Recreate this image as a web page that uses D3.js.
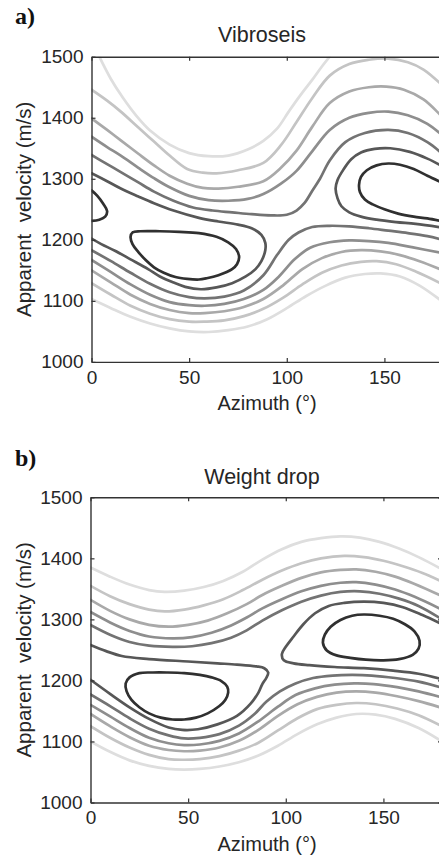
<!DOCTYPE html>
<html>
<head>
<meta charset="utf-8">
<script src="https://cdn.jsdelivr.net/npm/d3@7"></script>
<style>
  html, body { margin: 0; padding: 0; background: #fff; }
  svg { display: block; }
  .tick text, .lbl { font-family: "Liberation Sans", Arial, Helvetica, sans-serif; fill: #262626; }
</style>
</head>
<body>
<svg id="chart" width="439" height="855"></svg>
<script>
// ---- axis ticks ----
const xTicks = [0, 50, 100, 150];
const yTicks = [1000, 1100, 1200, 1300, 1400, 1500];

// grey shade of each contour level (1 = outermost/lightest, 7 = innermost/darkest)
const levelColors = ["#dedede", "#c4c4c4", "#a9a9a9", "#8e8e8e", "#737373", "#575757", "#303030"];

// ---- Vibroseis contours: [azimuth (deg), apparent velocity (m/s)] ----
const vibL1Upper = [[4,1500],[10,1463],[16,1433],[23,1403],[30,1379],[40,1356],[50,1342],[60,1337],[70,1338],[80,1348],[88,1362],[95,1382],[101,1410],[107,1437],[113,1462],[118,1484],[122,1500]];
const vibL2Upper = [[0,1446],[8,1428],[15,1410],[24,1384],[32,1361],[40,1338],[49,1316],[57,1310],[64,1309],[75,1314],[88,1326],[97,1355],[105,1393],[113,1432],[122,1469],[132,1488],[142,1495],[152,1497],[162,1491],[170,1479],[180,1452]];
const vibL3Upper = [[0,1399],[8,1380],[15,1363],[24,1341],[32,1322],[40,1305],[49,1292],[57,1285],[65,1284],[75,1287],[88,1296],[97,1318],[105,1346],[113,1385],[122,1424],[132,1443],[142,1450],[151,1451],[160,1446],[170,1430],[180,1400]];
const vibL4Upper = [[0,1369],[8,1352],[15,1338],[24,1318],[32,1301],[40,1286],[50,1272],[60,1265],[70,1264],[80,1267],[88,1275],[97,1292],[105,1313],[113,1345],[122,1380],[132,1400],[142,1408],[152,1410],[162,1404],[172,1390],[180,1370]];
const vibL5Upper = [[0,1339],[8,1324],[15,1311],[24,1294],[32,1279],[42,1264],[52,1253],[62,1248],[72,1245],[82,1242],[92,1240],[100,1241],[105,1248],[109,1260],[113,1280],[117,1300],[122,1330],[130,1360],[140,1375],[152,1380],[162,1375],[172,1360],[180,1340]];
const vibL6Central = [[0,1309],[8,1296],[15,1284],[24,1271],[32,1260],[42,1248],[55,1236],[65,1230],[75,1225],[82,1219],[87,1208],[89,1195],[89,1183],[87,1165],[84,1152],[79,1140],[72,1129],[64,1122],[56,1119],[48,1123],[42,1130],[35,1140],[29,1152],[20,1168],[12,1182],[5,1193],[0,1202]];
const vibL6Right = [[180,1320],[172,1333],[163,1344],[153,1350],[145,1349],[138,1343],[133,1332],[129,1315],[126,1298],[125,1284],[126,1268],[128,1255],[132,1245],[138,1238],[146,1233],[156,1229],[166,1226],[180,1220]];
const vibL7Left = [[0,1281],[3,1272],[6,1259],[8,1247],[7,1238],[4,1233],[0,1231]];
const vibL7Central = [[20,1205],[21,1212],[25,1214],[35,1214],[45,1213],[55,1211],[64,1205],[70,1196],[74,1185],[75.6,1172],[74.5,1160],[72,1152],[65,1142],[59,1137],[55,1135],[49,1136],[43,1139],[37,1146],[32,1155],[28,1166],[24,1180],[21,1193]];
const vibL7Right = [[180,1293],[172,1305],[165,1316],[158,1323],[152,1325],[146,1322],[141,1314],[138,1303],[137,1290],[137.5,1278],[140,1266],[144,1258],[150,1250],[157,1243],[165,1238],[172,1235],[180,1230]];
const vibL5Lower = [[0,1183],[10,1165],[20,1146],[30,1128],[40,1114],[50,1106],[58,1104],[68,1107],[78,1117],[88,1142],[95,1175],[101,1200],[106,1212],[113,1221],[122,1223],[132,1222],[142,1219],[152,1215],[162,1211],[172,1206],[180,1200]];
const vibL4Lower = [[0,1167],[10,1147],[20,1127],[30,1110],[40,1098],[50,1093],[58,1092],[68,1095],[78,1103],[88,1118],[96,1140],[104,1168],[112,1187],[122,1196],[132,1199],[142,1198],[152,1195],[164,1188],[180,1178]];
const vibL3Lower = [[0,1150],[10,1130],[20,1110],[30,1095],[40,1085],[50,1080],[58,1080],[68,1083],[78,1090],[88,1103],[98,1125],[108,1152],[118,1170],[128,1180],[138,1183],[148,1181],[158,1175],[168,1165],[180,1150]];
const vibL2Lower = [[0,1129],[10,1110],[20,1092],[30,1079],[40,1070],[50,1066],[58,1066],[68,1068],[78,1075],[88,1087],[98,1105],[108,1127],[118,1146],[128,1158],[138,1164],[146,1165],[156,1160],[166,1148],[180,1127]];
const vibL1Lower = [[0,1103],[10,1088],[20,1074],[30,1063],[40,1055],[50,1050],[60,1049],[70,1052],[80,1058],[90,1070],[100,1088],[110,1108],[120,1125],[130,1138],[140,1144],[148,1145],[158,1140],[168,1125],[180,1098]];

// ---- Weight drop contours ----
const wdL1Upper = [[0,1385],[10,1370],[20,1357],[30,1348],[38,1345],[48,1347],[58,1353],[68,1363],[78,1378],[88,1398],[98,1415],[108,1427],[118,1433],[128,1436],[138,1434],[148,1427],[158,1416],[168,1402],[180,1382]];
const wdL2Upper = [[0,1355],[10,1338],[20,1325],[30,1316],[38,1313],[48,1316],[58,1323],[68,1333],[78,1348],[88,1365],[98,1380],[108,1392],[118,1400],[130,1404],[140,1402],[150,1396],[160,1387],[170,1376],[180,1362]];
const wdL3Upper = [[0,1332],[10,1314],[20,1300],[30,1291],[40,1288],[50,1291],[60,1298],[70,1310],[80,1325],[88,1340],[98,1355],[108,1368],[118,1377],[128,1381],[136,1382],[146,1378],[156,1370],[166,1358],[180,1338]];
const wdL4Upper = [[0,1312],[10,1295],[20,1281],[30,1272],[42,1269],[52,1271],[62,1278],[72,1290],[80,1303],[88,1318],[98,1333],[108,1346],[118,1355],[128,1360],[136,1361],[146,1357],[156,1349],[166,1337],[180,1316]];
const wdL5Upper = [[0,1291],[10,1275],[20,1263],[30,1257],[42,1255],[52,1256],[62,1261],[72,1270],[80,1282],[88,1298],[98,1315],[108,1329],[118,1339],[128,1345],[138,1346],[148,1342],[158,1334],[168,1322],[180,1300]];
const wdL6Central = [[0,1258],[8,1248],[16,1240],[30,1235],[50,1231],[65,1228],[75,1226],[85,1223],[89,1220],[91,1213],[90,1204],[88,1194],[86,1180],[82,1162],[75,1142],[65,1128],[55,1120],[47,1119],[40,1123],[30,1137],[20,1156],[10,1178],[0,1201]];
const wdL6Right = [[180,1292],[170,1307],[160,1320],[150,1327],[140,1329],[130,1327],[122,1322],[115,1310],[109,1292],[104,1272],[100,1255],[98,1243],[99,1233],[104,1228],[112,1225],[125,1222],[140,1220],[155,1216],[168,1211],[180,1202]];
const wdL7Central = [[18,1195],[20,1205],[25,1212],[32,1213],[39,1213],[48,1212],[56,1209],[62,1205],[67,1199],[70,1190],[70.5,1180],[69,1168],[66,1158],[60,1146],[54,1139],[48,1136],[42,1136],[36,1139],[30,1146],[25,1156],[21,1168],[18.5,1182]];
const wdL7Right = [[119,1262],[120,1275],[123,1288],[128,1299],[134,1306],[140,1308],[148,1306],[155,1301],[161,1292],[166,1280],[168.5,1265],[168,1252],[165,1242],[158,1235],[150,1233],[141,1234],[133,1237],[126,1241],[121,1249]];
const wdL5Lower = [[0,1177],[10,1158],[20,1138],[30,1121],[40,1110],[48,1105],[56,1106],[66,1112],[76,1126],[84,1145],[90,1165],[97,1182],[105,1195],[114,1204],[124,1208],[134,1209],[144,1208],[156,1204],[168,1198],[180,1188]];
const wdL4Lower = [[0,1160],[10,1141],[20,1122],[30,1106],[40,1097],[48,1094],[56,1095],[66,1101],[76,1113],[86,1133],[96,1157],[105,1176],[115,1187],[125,1193],[135,1195],[145,1194],[157,1189],[168,1182],[180,1172]];
const wdL3Lower = [[0,1145],[10,1125],[20,1107],[30,1093],[40,1086],[48,1084],[56,1085],[66,1090],[76,1101],[86,1119],[96,1142],[106,1161],[116,1173],[126,1180],[136,1182],[146,1180],[157,1174],[168,1166],[180,1155]];
const wdL2Lower = [[0,1125],[10,1106],[20,1090],[30,1078],[40,1071],[48,1070],[56,1071],[66,1076],[76,1085],[86,1098],[96,1118],[106,1138],[116,1153],[126,1160],[136,1163],[146,1161],[157,1154],[168,1143],[180,1125]];
const wdL1Lower = [[0,1100],[10,1083],[20,1069],[30,1060],[40,1055],[48,1054],[56,1055],[66,1059],[76,1066],[86,1077],[96,1093],[106,1112],[116,1128],[126,1139],[136,1145],[146,1144],[156,1137],[168,1122],[180,1100]];

// contour sets: [level, points, closed?]
const vibContours = [
  [1, vibL1Upper], [2, vibL2Upper], [3, vibL3Upper], [4, vibL4Upper], [5, vibL5Upper],
  [6, vibL6Central], [6, vibL6Right],
  [7, vibL7Left], [7, vibL7Central, true], [7, vibL7Right],
  [5, vibL5Lower], [4, vibL4Lower], [3, vibL3Lower], [2, vibL2Lower], [1, vibL1Lower]
];
const wdContours = [
  [1, wdL1Upper], [2, wdL2Upper], [3, wdL3Upper], [4, wdL4Upper], [5, wdL5Upper],
  [6, wdL6Central], [6, wdL6Right],
  [7, wdL7Central, true], [7, wdL7Right, true],
  [5, wdL5Lower], [4, wdL4Lower], [3, wdL3Lower], [2, wdL2Lower], [1, wdL1Lower]
];

const panels = [
  { tag: "a)", title: "Vibroseis",   contours: vibContours, left: 91.5, top: 56.7,  tagY: 24,  titleY: 42 },
  { tag: "b)", title: "Weight drop", contours: wdContours,  left: 90.5, top: 497.3, tagY: 466, titleY: 483.5 }
];

const svg = d3.select("#chart");
const plotW = 351.5, plotH = 305.2;
const axisColor = "#333";

panels.forEach((p, i) => {
  const x = d3.scaleLinear().domain([0, 180]).range([0, plotW]);
  const y = d3.scaleLinear().domain([1000, 1500]).range([plotH, 0]);
  const g = svg.append("g").attr("transform", `translate(${p.left},${p.top})`);

  const clipId = "clip" + i;
  g.append("clipPath").attr("id", clipId)
    .append("rect").attr("x", 0).attr("y", 0).attr("width", plotW).attr("height", plotH);

  const open = d3.line().x(d => x(d[0])).y(d => y(d[1])).curve(d3.curveCatmullRom.alpha(0.5));
  const closed = d3.line().x(d => x(d[0])).y(d => y(d[1])).curve(d3.curveCatmullRomClosed.alpha(0.5));

  const cg = g.append("g").attr("clip-path", `url(#${clipId})`);
  p.contours.forEach(([lvl, pts, isClosed]) => {
    cg.append("path")
      .attr("d", (isClosed ? closed : open)(pts))
      .attr("fill", "none")
      .attr("stroke", levelColors[lvl - 1])
      .attr("stroke-width", 2.7)
      .attr("stroke-linejoin", "round")
      .attr("stroke-linecap", "round");
  });

  // box axes with inward ticks
  const styleAxis = sel => {
    sel.select(".domain").attr("stroke", axisColor).attr("stroke-width", 1.4);
    sel.selectAll(".tick line").attr("stroke", axisColor).attr("stroke-width", 1.2);
    sel.selectAll(".tick text").attr("font-size", "19px").attr("fill", "#262626");
  };
  const fmt = d3.format("d");
  g.append("g").attr("transform", `translate(0,${plotH})`)
    .call(d3.axisBottom(x).tickValues(xTicks).tickFormat(fmt).tickSize(-4).tickSizeOuter(0).tickPadding(8.5))
    .call(styleAxis);
  g.append("g")
    .call(d3.axisLeft(y).tickValues(yTicks).tickFormat(fmt).tickSize(-4).tickSizeOuter(0).tickPadding(8))
    .call(styleAxis);
  g.append("g")
    .call(d3.axisTop(x).tickValues(xTicks).tickSize(-4).tickSizeOuter(0).tickFormat(""))
    .call(styleAxis);
  g.append("g").attr("transform", `translate(${plotW},0)`)
    .call(d3.axisRight(y).tickValues(yTicks).tickSize(-4).tickSizeOuter(0).tickFormat(""))
    .call(styleAxis);

  // panel tag, title and axis labels
  svg.append("text").attr("class", "lbl")
    .attr("x", 15).attr("y", p.tagY)
    .style("font-family", "'Liberation Serif','Times New Roman',serif")
    .style("font-weight", "bold").style("font-size", "24px").style("fill", "#111")
    .text(p.tag);
  svg.append("text").attr("class", "lbl")
    .attr("x", 262).attr("y", p.titleY)
    .attr("text-anchor", "middle").style("font-size", "21.5px")
    .text(p.title);
  svg.append("text").attr("class", "lbl")
    .attr("transform", `translate(31,${p.top + plotH / 2}) rotate(-90)`)
    .attr("text-anchor", "middle").style("font-size", "20.5px").style("white-space", "pre")
    .text("Apparent  velocity (m/s)");
  svg.append("text").attr("class", "lbl")
    .attr("x", 267).attr("y", p.top + plotH + 48)
    .attr("text-anchor", "middle").style("font-size", "20px")
    .text("Azimuth (°)");
});
</script>
</body>
</html>
